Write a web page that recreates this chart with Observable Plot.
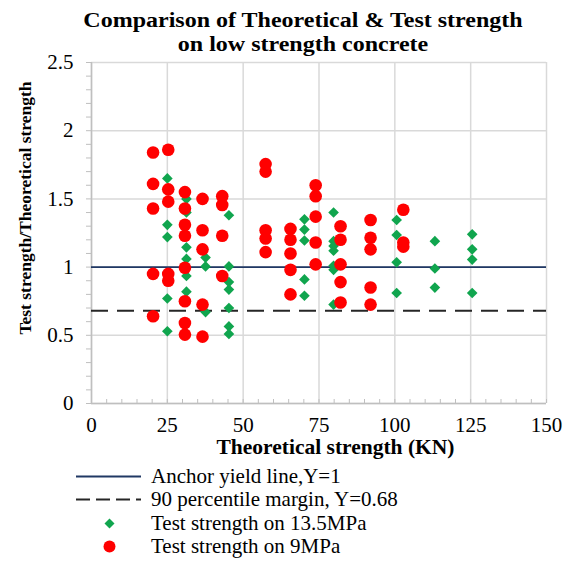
<!DOCTYPE html>
<html>
<head>
<meta charset="utf-8">
<script src="https://cdn.jsdelivr.net/npm/d3@7"></script>
<script src="https://cdn.jsdelivr.net/npm/@observablehq/plot@0.6"></script>
<style>
  body { margin: 0; background: #fff; }
  #wrap { position: relative; width: 571px; height: 565px; font-family: "Liberation Serif", "Times New Roman", serif; color: #000; overflow: hidden; }
  #title { position: absolute; left: 0; top: 8px; width: 606px; text-align: center; font-weight: bold; font-size: 20px; line-height: 24px; transform: scaleX(1.2); transform-origin: 303px 0; }
  #chart { position: absolute; left: 0; top: 0; }
  #chart text { font-family: "Liberation Serif", "Times New Roman", serif; }
  #legend { position: absolute; left: 0; top: 465px; font-size: 21px; }
  .row { position: relative; height: 23.3px; width: 571px; }
  .row svg { position: absolute; left: 70px; top: 0; }
  .row span { position: absolute; left: 151px; top: 0; line-height: 23px; white-space: nowrap; }
</style>
</head>
<body>
<div id="wrap">
  <div id="chart"></div>
  <div id="title">Comparison of Theoretical &amp; Test strength<br>on low strength concrete</div>
  <div id="legend"></div>
</div>
<script>
// ---- data ----
const xTitle = "Theoretical strength (KN)";
const yTitle = "Test strength/Theoretical strength";
const xTicks = [0, 25, 50, 75, 100, 125, 150];
const yTicks = [0, 0.5, 1, 1.5, 2, 2.5];
const xMinor = d3.range(0, 151, 5);
const yMinor = d3.range(0, 26, 1).map(i => i / 10);
const anchorY = 1;
const marginY = 0.68;
const legendLabels = ["Anchor yield line,Y=1", "90 percentile margin, Y=0.68", "Test strength on 13.5MPa", "Test strength on 9MPa"];

// [theoretical strength (KN), test/theoretical ratio]
const test135 = [
  [25, 1.65], [25, 1.31], [25, 1.22], [25, 0.77], [25, 0.53],
  [31.3, 1.50], [31.3, 1.40], [31.3, 1.145], [31.3, 1.06], [31.3, 0.935], [31.3, 0.82],
  [37.6, 1.07], [37.6, 1.005], [37.6, 0.67],
  [45.3, 1.38], [45.3, 1.005], [45.3, 0.89], [45.3, 0.835], [45.3, 0.70], [45.3, 0.565], [45.3, 0.51],
  [70.2, 1.35], [70.2, 1.275], [70.2, 1.195], [70.2, 0.91], [70.2, 0.79],
  [79.8, 1.40], [79.8, 1.19], [79.8, 1.155], [79.8, 1.12], [79.8, 1.01], [79.8, 0.98], [79.8, 0.725],
  [100.6, 1.345], [100.6, 1.235], [100.6, 1.035], [100.6, 0.81],
  [113.2, 1.19], [113.2, 0.99], [113.2, 0.85],
  [125.5, 1.24], [125.5, 1.13], [125.5, 1.055], [125.5, 0.81]
];
const test9 = [
  [20.3, 1.84], [20.3, 1.61], [20.3, 1.43], [20.3, 0.95], [20.3, 0.64],
  [25.3, 1.86], [25.3, 1.57], [25.3, 1.48], [25.3, 0.95], [25.3, 0.90],
  [30.8, 1.55], [30.8, 1.43], [30.8, 1.31], [30.8, 1.23], [30.8, 0.995], [30.8, 0.75], [30.8, 0.59], [30.8, 0.505],
  [36.6, 1.50], [36.6, 1.27], [36.6, 1.13], [36.6, 0.725], [36.6, 0.49],
  [43.1, 1.52], [43.1, 1.455], [43.1, 1.23], [43.1, 0.935],
  [57.4, 1.755], [57.4, 1.70], [57.4, 1.27], [57.4, 1.21], [57.4, 1.11],
  [65.6, 1.28], [65.6, 1.20], [65.6, 1.10], [65.6, 0.98], [65.6, 0.80],
  [73.9, 1.60], [73.9, 1.52], [73.9, 1.37], [73.9, 1.18], [73.9, 1.02],
  [82.1, 1.30], [82.1, 1.20], [82.1, 1.02], [82.1, 0.89], [82.1, 0.74],
  [92, 1.345], [92, 1.215], [92, 1.13], [92, 0.85], [92, 0.725],
  [102.8, 1.42], [102.8, 1.18], [102.8, 1.15]
];

// ---- styles ----
const SERIF = "Liberation Serif";
const GREEN = "#10a54e";
const RED = "#ff0000";
const NAVY = "#203864";
const DASH = "#262626";
const GRID = "#d9d9d9";
const AXIS = "#bfbfbf";

const chart = Plot.plot({
  width: 571,
  height: 462,
  marginLeft: 91,
  marginRight: 25,
  marginTop: 62,
  marginBottom: 59,
  style: { fontFamily: SERIF, fontSize: "21px", color: "#000", background: "transparent", overflow: "visible" },
  x: { domain: [0, 150] },
  y: { domain: [0, 2.5] },
  marks: [
    Plot.gridX(xTicks, { stroke: GRID, strokeOpacity: 1, strokeWidth: 1.5 }),
    Plot.gridY(yTicks, { stroke: GRID, strokeOpacity: 1, strokeWidth: 1.5 }),
    Plot.ruleX([0], { stroke: AXIS, strokeWidth: 1.5 }),
    Plot.ruleY([0], { stroke: AXIS, strokeWidth: 1.5 }),
    Plot.axisX(xMinor, { tickSize: 4, dy: -4, tickFormat: () => "", label: null, stroke: AXIS }),
    Plot.axisY(yMinor, { tickSize: 5, tickFormat: () => "", label: null, stroke: AXIS }),
    Plot.axisX(xTicks, { tickSize: 0, tickPadding: 14, label: null, fill: "#000", fontFamily: SERIF, fontSize: 21, tickFormat: d => `${d}` }),
    Plot.axisY(yTicks, { tickSize: 0, tickPadding: 18, label: null, fill: "#000", fontFamily: SERIF, fontSize: 21, tickFormat: d => `${d}` }),
    Plot.ruleY([anchorY], { stroke: NAVY, strokeWidth: 1.8 }),
    Plot.ruleY([marginY], { stroke: DASH, strokeWidth: 2, strokeDasharray: "17,9" }),
    Plot.dot(test135, { x: d => d[0], y: d => d[1], symbol: "diamond2", r: 4.8, fill: GREEN }),
    Plot.dot(test9, { x: d => d[0], y: d => d[1], r: 6.3, fill: RED }),
    Plot.text([xTitle], { text: d => d, frameAnchor: "bottom", textAnchor: "middle", lineAnchor: "middle", dx: 16.5, dy: 44, fontWeight: "bold", fontSize: 21.5, fontFamily: SERIF, fill: "#000" }),
    Plot.text([yTitle], { text: d => d, frameAnchor: "left", textAnchor: "middle", lineAnchor: "middle", rotate: -90, dx: -66, dy: -25, fontWeight: "bold", fontSize: 17.5, fontFamily: SERIF, fill: "#000" })
  ]
});
document.getElementById("chart").appendChild(chart);

// ---- legend ----
const legendSymbols = [
  `<svg width="75" height="23"><line x1="6" x2="71" y1="11.5" y2="11.5" stroke="${NAVY}" stroke-width="1.8"/></svg>`,
  `<svg width="75" height="23"><line x1="6" x2="71" y1="11.5" y2="11.5" stroke="${DASH}" stroke-width="1.8" stroke-dasharray="14,6"/></svg>`,
  `<svg width="75" height="23"><path d="M39.5,6.5L44.5,11.5L39.5,16.5L34.5,11.5Z" fill="${GREEN}"/></svg>`,
  `<svg width="75" height="23"><circle cx="39.5" cy="11.5" r="6" fill="${RED}"/></svg>`
];
const legend = document.getElementById("legend");
legendLabels.forEach((lab, i) => {
  const row = document.createElement("div");
  row.className = "row";
  row.innerHTML = legendSymbols[i];
  const s = document.createElement("span");
  s.textContent = lab;
  row.appendChild(s);
  legend.appendChild(row);
});
</script>
</body>
</html>
